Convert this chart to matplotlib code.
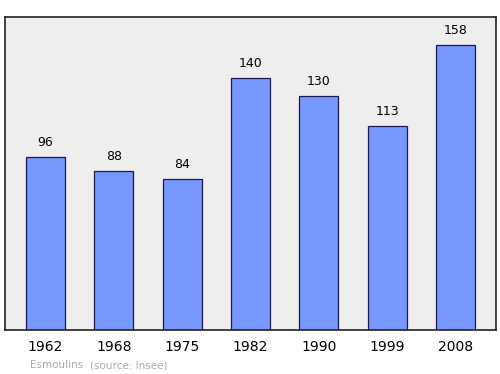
import matplotlib.pyplot as plt

years = ['1962', '1968', '1975', '1982', '1990', '1999', '2008']
population = [96, 88, 84, 140, 130, 113, 158]

fig = plt.figure(figsize=(5, 3.74), dpi=100)
ax = fig.add_axes([0.01, 0.1176, 0.982, 0.837])
ax.set_facecolor('#eeeeee')

x = range(len(years))
ax.bar(x, population, width=0.57, color='#7799ff', edgecolor='#1a1a4a', linewidth=0.9)
for i, v in zip(x, population):
    ax.text(i, v + 4.5, str(v), ha='center', va='bottom', fontsize=9)

ax.set_xlim(-0.593, 6.593)
ax.set_ylim(0, 173.7)
ax.set_xticks(list(x))
ax.set_xticklabels(years, fontsize=10)
ax.tick_params(axis='x', length=0, pad=7.5)
ax.set_yticks([])
for s in ax.spines.values():
    s.set_linewidth(1.2)
    s.set_color('#222222')

fig.text(0.06, 0.016, 'Esmoulins', fontsize=7.5, color='#aaaaaa')
fig.text(0.18, 0.016, '(source: Insee)', fontsize=7.5, color='#aaaaaa')

fig.savefig('out.png')
